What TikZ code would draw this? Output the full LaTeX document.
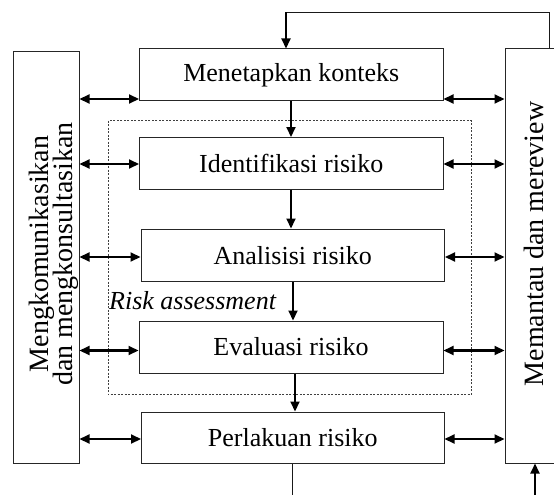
\documentclass[tikz,border=0pt]{standalone}
\usepackage{fontspec}
\setmainfont{Liberation Serif}
\usetikzlibrary{arrows.meta}
\begin{document}
\begin{tikzpicture}[x=1pt,y=-1pt,
  box/.style={draw=black!85, line width=1pt, inner sep=0pt, minimum width=303.5pt, minimum height=51.5pt, font=\fontsize{26}{28}\selectfont},
  sidebox/.style={draw=black!85, line width=1pt, inner sep=0pt},
  sidetext/.style={rotate=90, anchor=base, inner sep=0pt, font=\fontsize{28}{28}\selectfont},
  dbl/.style={line width=2.1pt, {Triangle[length=10pt,width=9pt]}-{Triangle[length=10pt,width=9pt]}},
  arr/.style={line width=2.1pt, -{Triangle[length=10pt,width=9pt]}},
  thinline/.style={line width=1pt, black!90},
  dashbox/.style={line width=0.8pt, black!75, dash pattern=on 2pt off 1.5pt}]
\useasboundingbox (0,0) rectangle (554,495);
% dashed risk assessment frame
\draw[dashbox] (108,120.5) rectangle (471,394.5);
% side boxes
\node[sidebox, minimum width=66pt, minimum height=411pt] (comm) at (46,257.5) {};
\node[sidebox, minimum width=95pt, minimum height=414pt] (mon) at (552.5,256) {};
\node[sidetext] (commA) at (48,254) {Mengkomunikasikan};
\node[sidetext] (commB) at (72,254) {dan mengkonsultasikan};
\node[sidetext] (monT) at (543,244) {Memantau dan mereview};
% process boxes
\node[box] (ctx) at (291.25,74.75) {Menetapkan konteks};
\node[box] (idf) at (291.25,163.25) {Identifikasi risiko};
\node[box, minimum height=52.5pt] (ana) at (292.75,255.25) {Analisisi risiko};
\node[box, minimum width=304pt, minimum height=52pt] (eva) at (291,347) {Evaluasi risiko};
\node[box, minimum width=302.5pt, minimum height=51pt] (trt) at (292.75,437.5) {Perlakuan risiko};
\node[anchor=base west, inner sep=0pt, font=\fontsize{26}{28}\selectfont\itshape] (ra) at (109,309) {Risk assessment};
% double arrows
\coordinate (y1) at (0,99);
\coordinate (y2) at (0,164);
\coordinate (y3) at (0,257);
\coordinate (y4) at (0,350.5);
\coordinate (y5) at (0,439);
\foreach \b/\y in {ctx/y1, idf/y2, ana/y3, eva/y4, trt/y5}{
  \draw[dbl] (comm.east |- \y) -- (\b.west |- \y);
  \draw[dbl] (\b.east |- \y) -- (mon.west |- \y);
}
% vertical flow arrows
\coordinate (x1) at (291,0);
\coordinate (x2) at (293,0);
\coordinate (x3) at (295,0);
\draw[arr] (ctx.south -| x1) -- (idf.north -| x1);
\draw[arr] (idf.south -| x1) -- (ana.north -| x1);
\draw[arr] (ana.south -| x2) -- (eva.north -| x2);
\draw[arr] (eva.south -| x3) -- (trt.north -| x3);
% feedback loop at top
\coordinate (tr) at (549,12.5);
\coordinate (tl) at (286,12.5);
\draw[thinline] (mon.north -| tr) -- (tr) -- (tl);
\draw[arr] (tl) -- (ctx.north -| tl);
% bottom lines
\coordinate (bl) at (292.75,500);
\draw[thinline] (trt.south -| bl) -- (bl);
\coordinate (br) at (535,500);
\draw[arr] (br) -- (mon.south -| br);
\end{tikzpicture}
\end{document}
